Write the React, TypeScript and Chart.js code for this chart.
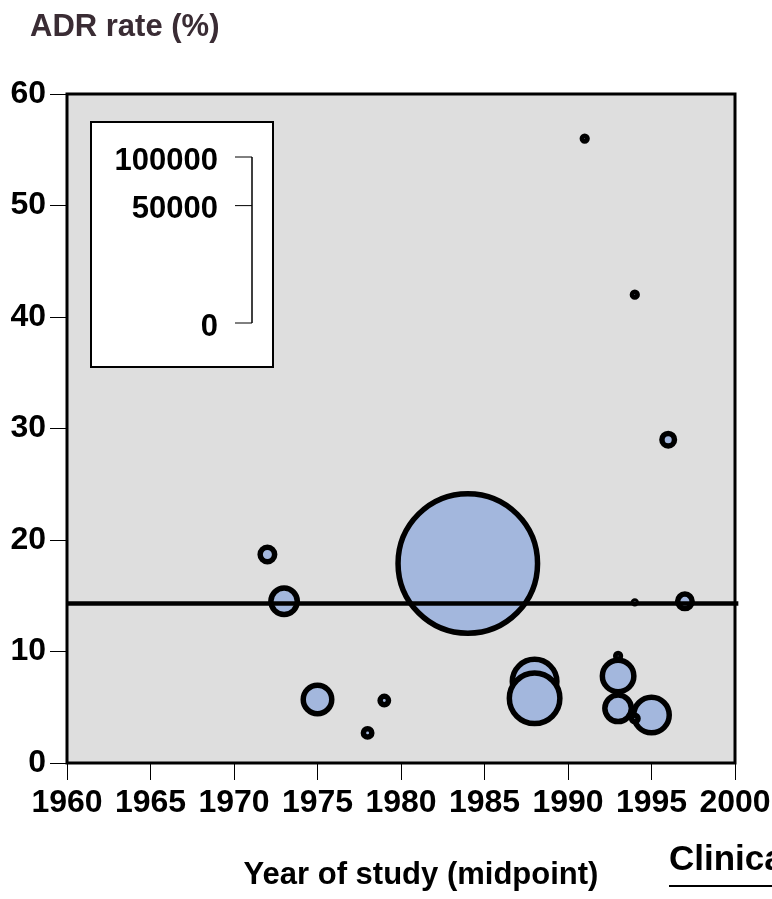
import React, { useEffect, useRef } from 'react';
import { Chart, registerables } from 'chart.js';

Chart.register(...registerables);

// ---- data ----
const studyYears = [1972, 1973, 1975, 1978, 1979, 1984, 1988, 1988, 1991, 1994, 1996, 1994, 1997, 1993, 1993, 1993, 1995, 1994];
const adrRates = [18.7, 14.5, 5.7, 2.7, 5.6, 17.9, 7.3, 5.8, 56.0, 42.0, 29.0, 14.4, 14.5, 9.6, 4.9, 7.8, 4.3, 4.0];
const sampleSizes = [1450, 3700, 4200, 700, 700, 76300, 9100, 11400, 380, 380, 1180, 250, 1450, 380, 3720, 4970, 6100, 520];
const pooledRate = 14.3;
const pooledYears = [1960, 2000.2];
const xTickValues = [1960, 1965, 1970, 1975, 1980, 1985, 1990, 1995, 2000];
const yTickValues = [0, 10, 20, 30, 40, 50, 60];
const sizeLegendValues = [0, 50000, 100000];

const FONT = '"Liberation Sans", Arial, Helvetica, sans-serif';
const SIZE_MAX = 100000;
const SIZE_AXIS_PX = 166; // legend axis length = outer diameter at SIZE_MAX
const BORDER_W = 5.5;

const outerDiameter = (n: number) => SIZE_AXIS_PX * Math.sqrt(n / SIZE_MAX);
const bubbleRadius = (n: number) => Math.max(0.5, outerDiameter(n) / 2 - BORDER_W / 2);

const framePlugin = {
  id: 'frameAndText',
  beforeDatasetsDraw(chart: any) {
    const { ctx, chartArea: a } = chart;
    ctx.save();
    ctx.fillStyle = '#dedede';
    ctx.fillRect(a.left, a.top, a.right - a.left, a.bottom - a.top);
    ctx.restore();
  },
  afterDraw(chart: any) {
    const { ctx, chartArea: a } = chart;
    ctx.save();
    // frame
    ctx.strokeStyle = '#000';
    ctx.lineWidth = 3;
    ctx.strokeRect(a.left, a.top, a.right - a.left, a.bottom - a.top);

    // size legend box
    const bx = 91, by = 122, bw = 182, bh = 245;
    ctx.fillStyle = '#fff';
    ctx.fillRect(bx, by, bw, bh);
    ctx.lineWidth = 2;
    ctx.strokeRect(bx, by, bw, bh);
    const axisX = 252;
    const zeroY = 323;
    const yFor = (v: number) => zeroY - outerDiameter(v);
    ctx.lineWidth = 1.5;
    ctx.beginPath();
    ctx.moveTo(axisX, yFor(SIZE_MAX));
    ctx.lineTo(axisX, zeroY);
    ctx.stroke();
    ctx.font = `bold 31px ${FONT}`;
    ctx.fillStyle = '#000';
    ctx.textAlign = 'right';
    ctx.textBaseline = 'middle';
    sizeLegendValues.forEach((v) => {
      const y = yFor(v);
      ctx.beginPath();
      ctx.lineWidth = 1;
      ctx.moveTo(axisX - 17, y);
      ctx.lineTo(axisX, y);
      ctx.stroke();
      ctx.fillText(String(v), 218, y + 4);
    });

    // texts
    ctx.textBaseline = 'alphabetic';
    ctx.textAlign = 'left';
    ctx.fillStyle = '#3a2c34';
    ctx.font = `bold 31px ${FONT}`;
    ctx.fillText('ADR rate (%)', 30, 36);

    ctx.fillStyle = '#000';
    ctx.font = `bold 31px ${FONT}`;
    ctx.textAlign = 'center';
    ctx.fillText('Year of study (midpoint)', 421, 884);

    ctx.textAlign = 'left';
    ctx.font = `bold 35px ${FONT}`;
    ctx.fillText('Clinical', 669, 870);
    ctx.lineWidth = 2;
    ctx.beginPath();
    ctx.moveTo(669, 886);
    ctx.lineTo(772, 886);
    ctx.stroke();
    ctx.restore();
  },
};

export default function App() {
  const canvasRef = useRef<HTMLCanvasElement | null>(null);

  useEffect(() => {
    document.body.style.margin = '0';
    const canvas = canvasRef.current;
    if (!canvas) return;
    const bubbles = studyYears.map((yr, i) => ({ x: yr, y: adrRates[i], r: bubbleRadius(sampleSizes[i]) }));
    const pooled = pooledYears.map((yr) => ({ x: yr, y: pooledRate }));
    const tickFont = { family: FONT, size: 32, weight: 'bold' as const };
    const chart = new Chart(canvas, {
      type: 'bubble',
      data: {
        datasets: [
          {
            type: 'line' as any,
            data: pooled,
            borderColor: '#000',
            borderWidth: 4.5,
            pointRadius: 0,
            fill: false,
            order: 0,
            clip: false as any,
          } as any,
          {
            type: 'bubble',
            data: bubbles,
            backgroundColor: '#a3b7dd',
            borderColor: '#000',
            borderWidth: BORDER_W,
            order: 1,
            clip: false as any,
          } as any,
        ],
      },
      options: {
        animation: false,
        responsive: false,
        layout: { autoPadding: false, padding: { top: 94, right: 37, left: 0, bottom: 0 } },
        plugins: { legend: { display: false }, tooltip: { enabled: false } },
        scales: {
          x: {
            type: 'linear',
            min: 1960,
            max: 2000,
            afterFit: (s: any) => { s.height = 136; s.paddingLeft = 0; s.paddingRight = 0; },
            afterBuildTicks: (s: any) => { s.ticks = xTickValues.map((v) => ({ value: v })); },
            ticks: { font: tickFont, color: '#000', padding: 4, maxRotation: 0, autoSkip: false, callback: (v: any) => String(v) },
            grid: { drawOnChartArea: false, drawTicks: true, tickLength: 17, color: '#000', lineWidth: 1 },
            border: { display: false },
          },
          y: {
            type: 'linear',
            min: 0,
            max: 60,
            afterFit: (s: any) => { s.width = 67; s.paddingTop = 0; s.paddingBottom = 0; },
            afterBuildTicks: (s: any) => { s.ticks = yTickValues.map((v) => ({ value: v })); },
            ticks: { font: tickFont, color: '#000', padding: 4, callback: (v: any) => String(v) },
            grid: { drawOnChartArea: false, drawTicks: true, tickLength: 17, color: '#000', lineWidth: 1 },
            border: { display: false },
          },
        },
      },
      plugins: [framePlugin],
    });
    return () => chart.destroy();
  }, []);

  return (
    <div style={{ width: 772, height: 899, position: 'relative' }}>
      <canvas ref={canvasRef} width={772} height={899} style={{ display: 'block' }} />
    </div>
  );
}
